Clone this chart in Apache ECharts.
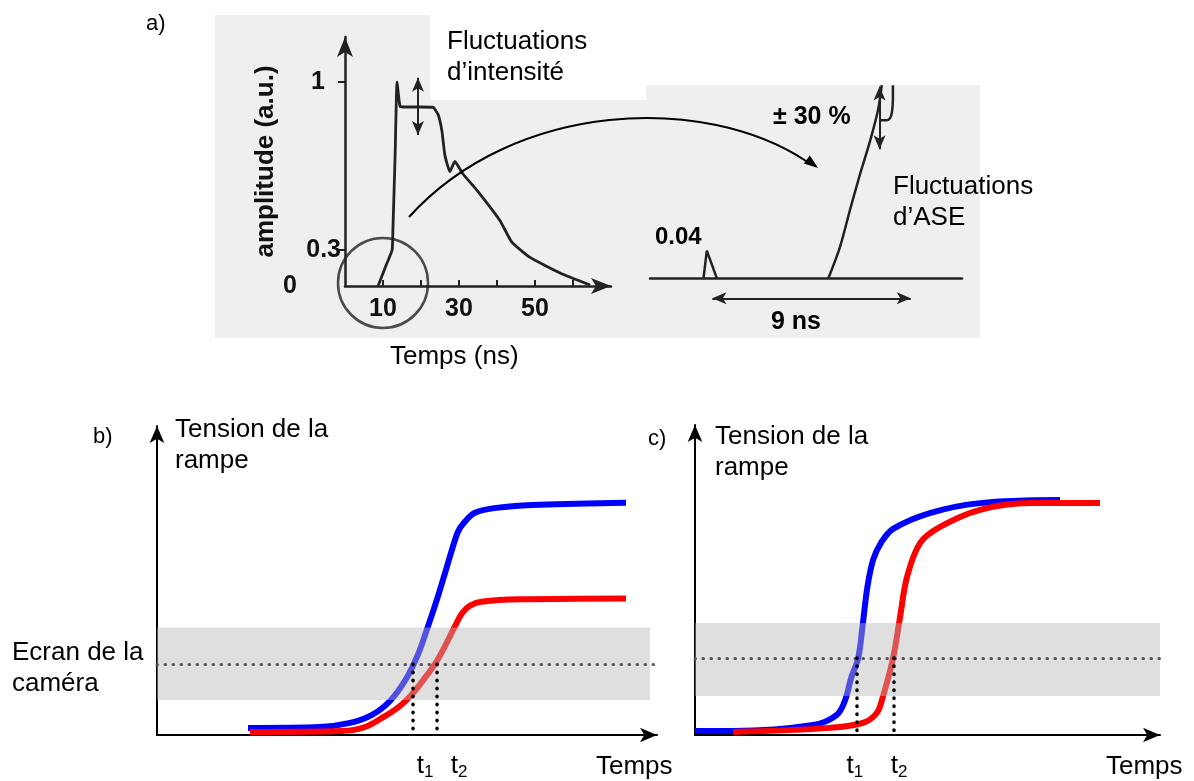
<!DOCTYPE html>
<html>
<head>
<meta charset="utf-8">
<script src="https://cdn.jsdelivr.net/npm/echarts@6/dist/echarts.min.js"></script>
<style>
  html, body { margin: 0; background: #fff; }
  #chart { width: 1194px; height: 781px; }
</style>
</head>
<body>
<div id="chart"></div>
<script>
var FONT = '"Liberation Sans", Arial, sans-serif';

// a) pulse (ns, a.u. as drawn)
var aTime = [8.7, 11, 12.4, 12.6, 13.2, 13.7, 14.5, 16, 20, 23.2, 24.5, 25.5, 26.3, 27.6, 28.9, 31, 34.7, 40.8, 43.9, 48.7, 56.6, 64.5];
var aAmp = [0, 0.11, 0.176, 0.27, 0.65, 1.0, 0.88, 0.877, 0.877, 0.875, 0.84, 0.76, 0.64, 0.56, 0.61, 0.55, 0.47, 0.32, 0.215, 0.14, 0.064, 0.005];
var aTickVals = [0, 0.176, 1];
var aTickText = ['0', '0.3', '1'];
var aXLabels = [10, 30, 50];

// a) zoomed inset
var spikeT = [2.4, 2.55, 3.0];
var spikeA = [0, 0.042, 0];
var riseT = [8.0, 8.52, 8.97, 9.42, 9.87, 10.23, 10.4];
var riseA = [0, 0.047, 0.103, 0.157, 0.207, 0.254, 0.292];
var hookT = [10.3, 10.63, 10.86, 10.9, 10.9];
var hookA = [0.239, 0.239, 0.252, 0.272, 0.292];

// b) ramps
var bBlueT = [18.2, 32.6, 38.6, 43, 46.6, 49.8, 52.2, 54, 55.8, 57.4, 59, 60.2, 61.4, 63.6, 67.8, 76.6, 93.8];
var bBlue = [2.3, 2.6, 3.9, 6.5, 11, 18.1, 26.1, 34.2, 42.9, 51.3, 60, 65.8, 68.7, 71.9, 73.5, 74.5, 75.2];
var bRedT = [18.6, 37, 41.6, 45.6, 48.6, 51, 53.4, 55.8, 57.8, 59.6, 61, 62.6, 65.2, 72.6, 93.8];
var bRed = [1, 1.3, 2.6, 6.1, 9.4, 13.2, 18.1, 23.5, 29.4, 35.2, 39.4, 41.9, 43.2, 43.9, 44.2];
var bScreen = [11.3, 34.8, 22.9];   // band low, band high, dotted level
var bT = [51.2, 56];
var bTLabel = [53.6, 60.4];

// c) ramps
var cBlueT = [0, 8.2, 25.4, 30.5, 32.3, 33.6, 35.1, 36.1, 37.1, 38.3, 40, 42.6, 50.5, 61.3, 78.5];
var cBlue = [1.3, 1.3, 3.2, 6.5, 11.3, 18.5, 24.8, 36, 48, 56.5, 62, 66.5, 71.6, 74.8, 75.8];
var cRedT = [8.2, 29, 36.1, 39.1, 40.4, 42.6, 44.1, 45.6, 48.4, 52.7, 61.3, 72, 87.1];
var cRed = [1, 2.3, 3.9, 7.1, 12.3, 24.8, 38.1, 51, 61.9, 67.1, 72.6, 74.8, 74.8];
var cScreen = [12.6, 36.1, 24.8];
var cT = [34.8, 42.8];
var cTLabel = [34.4, 43.9];

function zip(xs, ys) {
    var out = [];
    for (var i = 0; i < xs.length; i++) out.push([xs[i], ys[i]]);
    return out;
}

function tFormatter(vals) {
    return function (v) {
        return v === vals[0] ? '{t|t}{s|1}' : '{t|t}{s|2}';
    };
}
var tRich = {
    t: { fontSize: 26, fontFamily: FONT, color: '#000', lineHeight: 30 },
    s: { fontSize: 17, fontFamily: FONT, color: '#000', lineHeight: 30, verticalAlign: 'bottom', padding: [8, 0, 0, 0] }
};

function rampXAxis(idx, labels) {
    return {
        type: 'value', gridIndex: idx, min: 0, max: 100,
        axisLine: { lineStyle: { color: '#000', width: 2 }, symbol: ['none', 'arrow'], symbolSize: [11, 17] },
        axisTick: { show: false }, splitLine: { show: false },
        axisLabel: { customValues: labels, margin: 16, formatter: tFormatter(labels), rich: tRich }
    };
}
function rampYAxis(idx) {
    return {
        type: 'value', gridIndex: idx, min: 0, max: 100,
        axisLine: { lineStyle: { color: '#000', width: 2 }, symbol: ['none', 'arrow'], symbolSize: [11, 17] },
        axisTick: { show: false }, axisLabel: { show: false }, splitLine: { show: false }
    };
}
function screenSeries(idx, scr, ts, xEnd) {
    var dots = { type: [0.5, 7.5], cap: 'round', color: '#555', width: 3 };
    var vdots = { type: [0.5, 7.5], cap: 'round', color: '#000', width: 3.5 };
    return {
        type: 'line', xAxisIndex: idx, yAxisIndex: idx, data: [], z: 5, silent: true,
        markArea: {
            silent: true, z: 10,
            itemStyle: { color: 'rgba(185,185,185,0.45)' },
            data: [[{ coord: [0, scr[0]] }, { coord: [xEnd, scr[1]] }]]
        },
        markLine: {
            silent: true, symbol: 'none', animation: false, z: 11,
            label: { show: false },
            lineStyle: dots,
            data: [
                [{ coord: [0, scr[2]] }, { coord: [100, scr[2]] }],
                [{ coord: [ts[0], scr[2]], lineStyle: vdots }, { coord: [ts[0], 0] }],
                [{ coord: [ts[1], scr[2]], lineStyle: vdots }, { coord: [ts[1], 0] }]
            ]
        }
    };
}
function ramp(idx, data, color, z) {
    return {
        type: 'line', xAxisIndex: idx, yAxisIndex: idx, data: data, z: z,
        smooth: 0.35, showSymbol: false, silent: true,
        lineStyle: { color: color, width: 6 }
    };
}
function txt(x, y, s, opt) {
    opt = opt || {};
    return {
        type: 'text', left: x, top: y, z: 100, silent: true,
        style: {
            text: s, fill: '#000', font: (opt.bold ? 'bold ' : '') + (opt.size || 26) + 'px ' + FONT,
            lineHeight: opt.lh || 31
        }
    };
}

var myChart = echarts.init(document.getElementById('chart'));

var option = {
    backgroundColor: '#fff',
    animation: false,
    grid: [
        { left: 345, top: 37, width: 266, height: 249 },
        { left: 650, top: 60, width: 312, height: 278 },
        { left: 157, top: 426, width: 500, height: 310 },
        { left: 695, top: 425, width: 465, height: 310 }
    ],
    xAxis: [
        {
            type: 'value', gridIndex: 0, min: 0, max: 70,
            axisLine: { lineStyle: { color: '#222', width: 2.5 }, symbol: ['none', 'arrow'], symbolSize: [12, 20] },
            axisTick: { inside: true, length: 6, customValues: [10, 20, 30, 40, 50, 60], lineStyle: { color: '#222', width: 2 } },
            axisLabel: { customValues: aXLabels, margin: 11, color: '#111', fontSize: 25, fontWeight: 'bold', fontFamily: FONT },
            splitLine: { show: false }
        },
        {
            type: 'value', gridIndex: 1, min: 0, max: 14,
            axisLine: { onZero: true, lineStyle: { color: '#222', width: 2.5 } },
            axisTick: { show: false }, axisLabel: { show: false }, splitLine: { show: false }
        },
        rampXAxis(2, bTLabel),
        rampXAxis(3, cTLabel)
    ],
    yAxis: [
        {
            type: 'value', gridIndex: 0, min: 0, max: 1.22,
            name: 'amplitude (a.u.)', nameLocation: 'middle', nameGap: 64,
            nameTextStyle: { fontSize: 26, fontWeight: 'bold', fontFamily: FONT, color: '#111' },
            axisLine: { lineStyle: { color: '#222', width: 2.5 }, symbol: ['none', 'arrow'], symbolSize: [12, 20] },
            axisTick: { customValues: [0.176, 1], length: 7, lineStyle: { color: '#222', width: 2 } },
            axisLabel: {
                customValues: aTickVals, margin: 4, fontSize: 25, fontWeight: 'bold', fontFamily: FONT, color: '#111',
                formatter: function (v) {
                    var i = aTickVals.indexOf(v);
                    if (i === 0) return '{z|' + aTickText[i] + '}';
                    if (i === 2) return '{o|' + aTickText[i] + '}';
                    return aTickText[i];
                },
                rich: {
                    z: { fontSize: 25, fontWeight: 'bold', fontFamily: FONT, color: '#111', padding: [0, 44, 0, 0] },
                    o: { fontSize: 25, fontWeight: 'bold', fontFamily: FONT, color: '#111', padding: [0, 16, 0, 0] }
                }
            },
            splitLine: { show: false }
        },
        { type: 'value', gridIndex: 1, min: -0.09, max: 0.33, show: false },
        rampYAxis(2),
        rampYAxis(3)
    ],
    series: [
        {
            type: 'line', xAxisIndex: 0, yAxisIndex: 0, data: zip(aTime, aAmp),
            smooth: 0.15, showSymbol: false, silent: true, z: 4,
            lineStyle: { color: '#222', width: 2.8 },
            markLine: {
                silent: true, symbol: ['arrow', 'arrow'], symbolSize: [9, 14], label: { show: false },
                lineStyle: { type: 'solid', color: '#222', width: 2 },
                data: [[{ coord: [19.2, 1.02] }, { coord: [19.2, 0.74] }]]
            }
        },
        {
            type: 'scatter', xAxisIndex: 0, yAxisIndex: 0, data: [[10, 0.015]], symbolSize: 90, silent: true, z: 4,
            itemStyle: { color: 'rgba(0,0,0,0)', borderColor: '#222', borderWidth: 2.5 }
        },
        {
            type: 'line', xAxisIndex: 1, yAxisIndex: 1, data: zip(spikeT, spikeA), showSymbol: false, silent: true, z: 4,
            lineStyle: { color: '#222', width: 2.5 }
        },
        {
            type: 'line', xAxisIndex: 1, yAxisIndex: 1, data: zip(riseT, riseA), smooth: 0.3, showSymbol: false, silent: true, z: 4,
            lineStyle: { color: '#222', width: 2.5 },
            markLine: {
                silent: true, symbol: ['arrow', 'arrow'], symbolSize: [9, 14],
                lineStyle: { type: 'solid', color: '#222', width: 2 },
                label: { show: false },
                data: [
                    [{ coord: [10.3, 0.29] }, { coord: [10.3, 0.195] }],
                    [{ coord: [2.8, -0.03] }, { coord: [11.7, -0.03] }]
                ]
            }
        },
        {
            type: 'line', xAxisIndex: 1, yAxisIndex: 1, data: zip(hookT, hookA), smooth: 0.5, showSymbol: false, silent: true, z: 4,
            lineStyle: { color: '#222', width: 2.5 }
        },
        ramp(2, zip(bBlueT, bBlue), '#0000ff', 2),
        ramp(2, zip(bRedT, bRed), '#ff0000', 3),
        screenSeries(2, bScreen, bT, 98.6),
        ramp(3, zip(cBlueT, cBlue), '#0000ff', 2),
        ramp(3, zip(cRedT, cRed), '#ff0000', 3),
        screenSeries(3, cScreen, cT, 100)
    ],
    graphic: [
        // scanned paper behind part a
        { type: 'rect', z: -10, silent: true, shape: { x: 215, y: 15, width: 430, height: 323 }, style: { fill: '#efefef' } },
        { type: 'rect', z: -9, silent: true, shape: { x: 430, y: 10, width: 216, height: 90 }, style: { fill: '#fff' } },
        { type: 'rect', z: -10, silent: true, shape: { x: 645, y: 85, width: 335, height: 253 }, style: { fill: '#efefef' } },
        // curved arrow from the circle to the inset
        { type: 'bezierCurve', z: 50, silent: true,
          shape: { x1: 409, y1: 217, cpx1: 515, cpy1: 100, cpx2: 705, cpy2: 94, x2: 806, y2: 161 },
          style: { stroke: '#000', lineWidth: 2, fill: null } },
        { type: 'polygon', z: 50, silent: true,
          shape: { points: [[818, 168], [803.8, 163.6], [809.8, 155.6]] }, style: { fill: '#000' } },
        txt(146, 8, 'a)', { size: 22 }),
        txt(447, 26, 'Fluctuations\nd\u2019intensit\u00e9'),
        txt(893, 171, 'Fluctuations\nd\u2019ASE'),
        txt(390, 341, 'Temps (ns)'),
        txt(773, 102, '\u00b1 30 %', { bold: true, size: 25 }),
        txt(655, 222, '0.04', { bold: true, size: 24 }),
        txt(771, 307, '9 ns', { bold: true, size: 25 }),
        // b
        txt(93, 421, 'b)', { size: 22 }),
        txt(175, 414, 'Tension de la\nrampe'),
        txt(12, 637, 'Ecran de la\ncam\u00e9ra'),
        txt(596, 751, 'Temps'),
        // c
        txt(648, 423, 'c)', { size: 22 }),
        txt(715, 421, 'Tension de la\nrampe'),
        txt(1106, 751, 'Temps')
    ]
};

myChart.setOption(option);
</script>
</body>
</html>
